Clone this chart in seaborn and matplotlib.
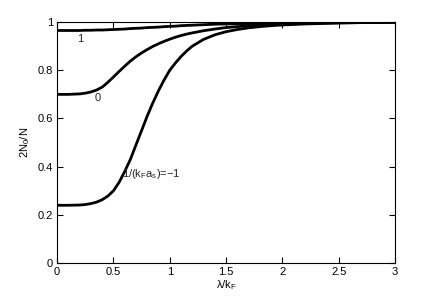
import numpy as np
import pandas as pd
import seaborn as sns
import matplotlib.pyplot as plt

# lambda / k_F sample points
lam = [0, 0.1, 0.2, 0.25, 0.3, 0.35, 0.4, 0.45, 0.5, 0.55, 0.6, 0.65, 0.7, 0.75, 0.8,
       0.85, 0.9, 0.95, 1.0, 1.05, 1.1, 1.15, 1.2, 1.3, 1.4, 1.5, 1.6, 1.7, 1.8, 1.9,
       2.0, 2.2, 2.5, 2.75, 3.0]

# condensate fraction 2N0/N for each 1/(kF as)
frac_m1 = [0.24, 0.24, 0.241, 0.243, 0.247, 0.253, 0.263, 0.278, 0.30, 0.335, 0.38, 0.43,
           0.49, 0.55, 0.61, 0.665, 0.715, 0.76, 0.80, 0.83, 0.857, 0.88, 0.90, 0.928,
           0.947, 0.96, 0.969, 0.976, 0.981, 0.985, 0.988, 0.992, 0.996, 0.998, 0.999]
frac_0 = [0.70, 0.70, 0.702, 0.705, 0.71, 0.718, 0.73, 0.75, 0.772, 0.795, 0.817, 0.838,
          0.856, 0.872, 0.886, 0.899, 0.91, 0.92, 0.929, 0.937, 0.944, 0.95, 0.955, 0.964,
          0.971, 0.977, 0.981, 0.985, 0.988, 0.99, 0.992, 0.995, 0.997, 0.998, 0.999]
frac_1 = [0.965, 0.965, 0.965, 0.966, 0.966, 0.967, 0.967, 0.968, 0.969, 0.97, 0.971, 0.973,
          0.974, 0.975, 0.977, 0.978, 0.979, 0.981, 0.982, 0.983, 0.985, 0.986, 0.987, 0.989,
          0.991, 0.992, 0.993, 0.994, 0.995, 0.996, 0.997, 0.998, 0.999, 0.9995, 1.0]

df = pd.DataFrame({
    "lam": lam * 3,
    "frac": frac_m1 + frac_0 + frac_1,
    "inv": ["-1"] * len(lam) + ["0"] * len(lam) + ["1"] * len(lam),
})

sns.set_style("ticks")
plt.rcParams["font.family"] = ["Liberation Sans", "DejaVu Sans"]

fig = plt.figure(figsize=(4.36, 2.98), dpi=100)
ax = fig.add_axes([0.131, 0.117, 0.775, 0.809])

sns.lineplot(data=df, x="lam", y="frac", units="inv", estimator=None,
             color="black", linewidth=2, ax=ax)

ax.set_xlim(0, 3)
ax.set_ylim(0, 1)
ax.set_xticks([0, 0.5, 1, 1.5, 2, 2.5, 3])
ax.set_xticklabels(["0", "0.5", "1", "1.5", "2", "2.5", "3"])
ax.set_yticks([0, 0.2, 0.4, 0.6, 0.8, 1])
ax.set_yticklabels(["0", "0.2", "0.4", "0.6", "0.8", "1"])
ax.tick_params(axis="both", which="major", direction="in", top=True, right=True,
               bottom=True, left=True, labelsize=8, length=4, width=0.8,
               color="black", labelcolor="black", pad=3)
ax.set_axisbelow(False)
for s in ax.spines.values():
    s.set_linewidth(0.8)
    s.set_color("black")
    s.set_visible(True)

ax.set_xlabel(r"$\mathregular{\lambda/k_F}$", fontsize=8, labelpad=1, color="black")
ax.set_ylabel(r"$\mathregular{2N_0/N}$", fontsize=8, labelpad=4, color="black")

ax.text(0.18, 0.93, "1", fontsize=8, va="center")
ax.text(0.33, 0.685, "0", fontsize=8, va="center")
ax.text(0.58, 0.37, r"$\mathregular{1/(k_F a_s)}$=−1", fontsize=8, va="center")

fig.savefig("out.png", dpi=100)
